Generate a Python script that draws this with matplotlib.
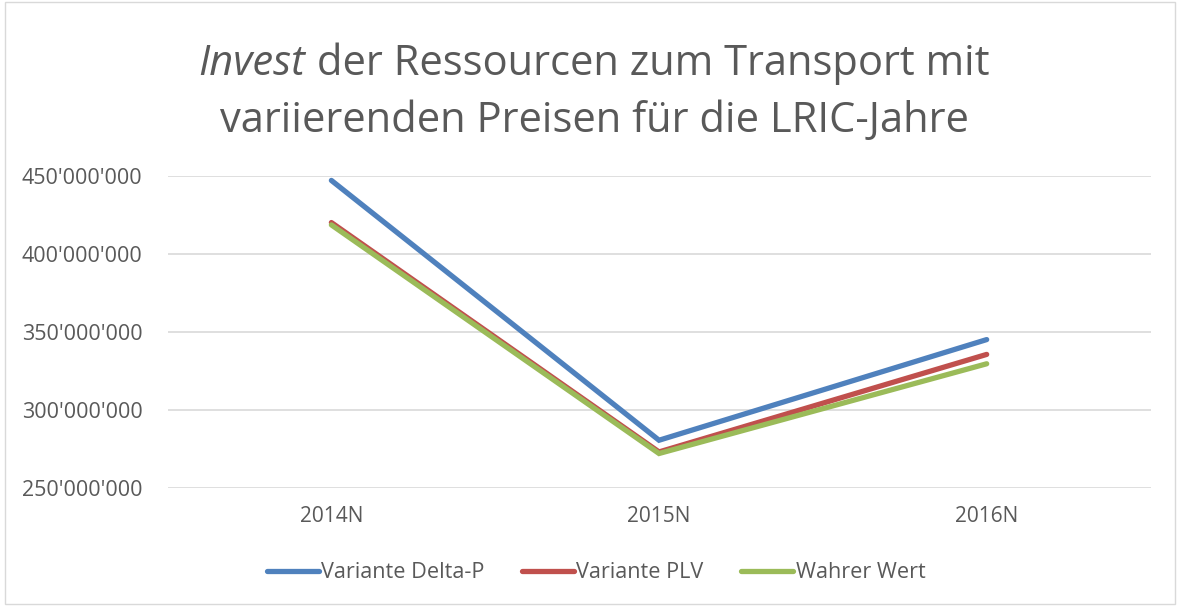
import matplotlib
matplotlib.use('Agg')
from matplotlib import pyplot as plt
from matplotlib.patches import Rectangle

## Daten
jahre = ['2014N', '2015N', '2016N']
delta_p = [447e6, 280.5e6, 345e6]
plv = [420e6, 273e6, 335.5e6]
wahrer_wert = [418.5e6, 272e6, 329.5e6]
serien = ['Variante Delta-P', 'Variante PLV', 'Wahrer Wert']
farben = ['#4F81BD', '#C0504D', '#9BBB59']
yticks = [250e6, 300e6, 350e6, 400e6, 450e6]

grau = '#595959'
plt.rcParams['font.family'] = ['Open Sans', 'DejaVu Sans']

fig = plt.figure(figsize=(11.8, 6.06), dpi=100)
ax = fig.add_axes([0.142, 0.195, 0.833, 0.515])

x = list(range(len(jahre)))
for werte, name, c in zip([delta_p, plv, wahrer_wert], serien, farben):
    ax.plot(x, werte, color=c, lw=3.8, label=name, solid_capstyle='round', solid_joinstyle='miter')

ax.set_xlim(-0.5, 2.5)
ax.set_ylim(250e6, 450e6)
ax.set_xticks(x)
ax.set_xticklabels(jahre)
ax.set_yticks(yticks)
ax.set_yticklabels(["{:,.0f}".format(v).replace(',', "'") for v in yticks])
ax.tick_params(length=0, labelsize=15, colors=grau, pad=13)
ax.tick_params(axis='y', labelsize=15.5, pad=18)
ax.grid(axis='y', color='#D9D9D9', lw=1.2)
ax.set_axisbelow(True)
for s in ax.spines.values():
    s.set_visible(False)

leg = fig.legend(loc='center', bbox_to_anchor=(0.505, 0.055), ncol=3, frameon=False,
                 fontsize=15.6, handlelength=2.4, handletextpad=0.1, columnspacing=1.75)
for t in leg.get_texts():
    t.set_color(grau)

## Titel mit kursivem "Invest"
r = fig.canvas.get_renderer()
fs = 30
t1a = fig.text(0, 0, 'Invest', fontsize=fs, style='italic', color=grau)
t1b = fig.text(0, 0, ' der Ressourcen zum Transport mit', fontsize=fs, color=grau)
wa = t1a.get_window_extent(r).width
wb = t1b.get_window_extent(r).width
x0 = 594 - (wa + wb) / 2
y1 = 1 - 75 / 606
t1a.set_position((x0 / 1180, y1))
t1b.set_position(((x0 + wa) / 1180, y1))
fig.text(594 / 1180, 1 - 132 / 606, 'variierenden Preisen für die LRIC-Jahre', fontsize=fs,
         color=grau, ha='center')

fig.patches.append(Rectangle((0.004, 0.004), 0.992, 0.992, transform=fig.transFigure,
                             fill=False, edgecolor='#D9D9D9', lw=1))

fig.savefig('out.png', dpi=100)
